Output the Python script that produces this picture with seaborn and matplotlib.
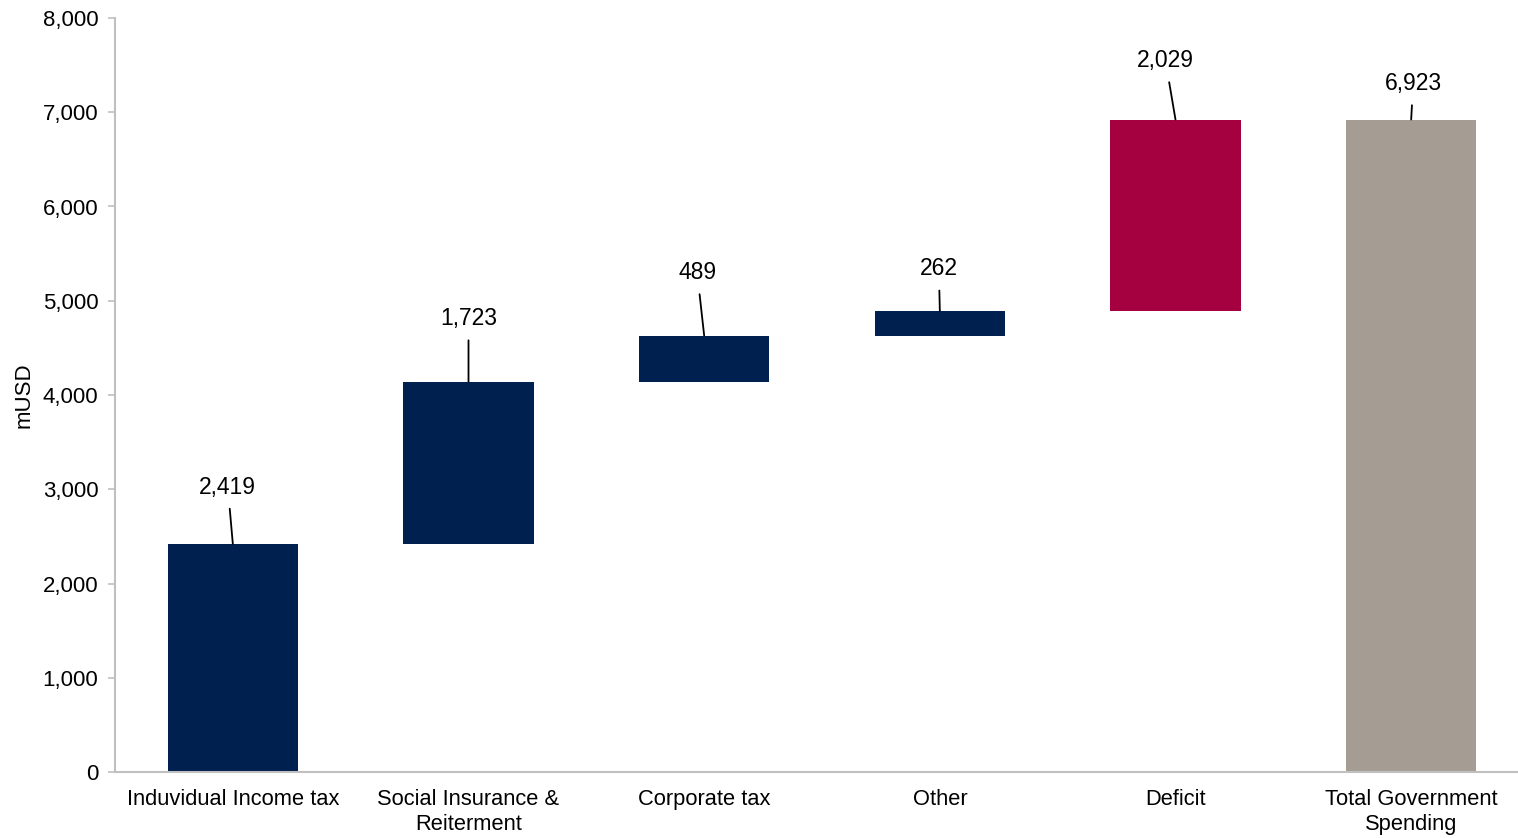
import matplotlib
matplotlib.use("Agg")
import matplotlib.pyplot as plt
import seaborn as sns
import numpy as np
from matplotlib.ticker import FuncFormatter

# Federal revenue sources stacking up to total spending
categories = ["Induvidual Income tax", "Social Insurance &\nReiterment", "Corporate tax",
              "Other", "Deficit", "Total Government\nSpending"]
values = [2419, 1723, 489, 262, 2029, 6923]
is_total = [False, False, False, False, False, True]
colors = ["#002050", "#002050", "#002050", "#002050", "#A50040", "#A59D94"]

# label placement relative to the top of each bar (pixels)
label_offsets = [(-5, 57), (0, 63), (-7, 63), (-1, 42), (-10, 59), (2, 36)]

# waterfall bases: running total, reset for the total bar
bases = []
running = 0
for v, tot in zip(values, is_total):
    if tot:
        bases.append(0)
    else:
        bases.append(running)
        running += v

sns.set_theme(style="white")
plt.rcParams["font.family"] = ["Liberation Sans", "DejaVu Sans"]

fig = plt.figure(figsize=(15.18, 8.38), dpi=100)
ax = fig.add_axes([115 / 1518, 1 - 772 / 838, 1414 / 1518, (772 - 18) / 838])

sns.barplot(x=categories, y=values, hue=categories, palette=colors,
            width=0.553, legend=False, ax=ax, saturation=1, linewidth=0)

for patch, base in zip(ax.patches, bases):
    patch.set_y(base)

ax.set_xlim(-0.5, len(categories) - 0.5)
ax.set_ylim(0, 8000)
ax.set_yticks(np.arange(0, 8001, 1000))
ax.yaxis.set_major_formatter(FuncFormatter(lambda v, p: f"{int(v):,}"))

for i, (v, b) in enumerate(zip(values, bases)):
    dx, dy = label_offsets[i]
    ax.annotate(f"{v:,}", xy=(i, b + v), xytext=(dx, dy), textcoords="offset pixels",
                ha="center", va="center", fontsize=16.5, color="black",
                arrowprops=dict(arrowstyle="-", color="black", lw=1.3,
                                shrinkA=5, shrinkB=0))

for side in ["top", "right"]:
    ax.spines[side].set_visible(False)
for side in ["left", "bottom"]:
    ax.spines[side].set_color("#C0C0C0")
    ax.spines[side].set_linewidth(1.5)

ax.tick_params(axis="y", length=5, width=1.2, color="#C0C0C0", labelsize=16, pad=7,
               left=True, labelcolor="black")
ax.tick_params(axis="x", length=0, labelsize=15.75, pad=12, labelcolor="black")
for lbl in ax.get_xticklabels():
    lbl.set_linespacing(1.3)
ax.set_xlabel("")
ax.set_ylabel("mUSD", fontsize=16, color="black")
ax.yaxis.set_label_coords(-80 / 1414, 0.5)

fig.savefig("out.png", dpi=100)
